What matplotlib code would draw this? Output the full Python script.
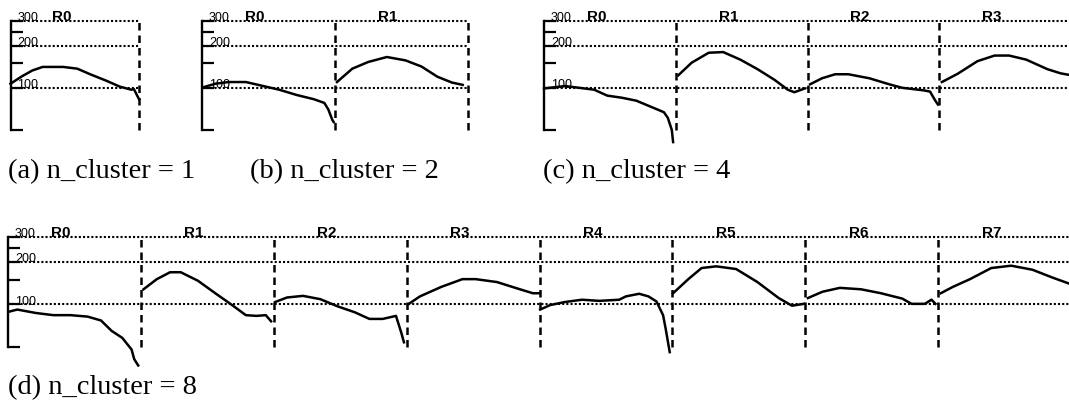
import matplotlib.pyplot as plt

plt.rcParams['font.family'] = ['Liberation Sans', 'DejaVu Sans']

W, H = 1069, 402

captions = ["(a) n_cluster = 1", "(b) n_cluster = 2", "(c) n_cluster = 4", "(d) n_cluster = 8"]
grid_vals = [100, 200, 300]
tick_vals = [50, 100, 150, 200, 250, 300]

# position inside each region (0..1) and value, one list per region R0, R1, ...
pos_n1 = [[0, .09, .17, .25, .41, .52, .62, .75, .85, .94, .96, 1.0]]
val_n1 = [[107, 121, 133, 141, 141, 137, 125, 112, 102, 97, 98, 83]]

pos_n2 = [[.01, .10, .20, .33, .46, .58, .71, .84, .92, .95, .98, .99],
          [.015, .13, .25, .39, .53, .65, .77, .88, .96]]
val_n2 = [[101, 107, 110, 110, 103, 97, 89, 83, 78, 70, 59, 57],
          [110, 137, 153, 166, 157, 142, 120, 109, 105]]

pos_n4 = [[0, .16, .38, .48, .59, .70, .80, .91, .94, .97, .98],
          [.02, .12, .25, .36, .49, .62, .75, .85, .90, .98],
          [.02, .11, .21, .31, .47, .62, .72, .88, .93, .97, .99],
          [.02, .14, .29, .42, .53, .66, .82, .92, 1.0]]
val_n4 = [[99, 103, 97, 88, 85, 81, 74, 67, 61, 50, 41],
          [123, 151, 178, 180, 159, 136, 114, 97, 93, 99],
          [106, 117, 125, 125, 117, 106, 100, 96, 94, 81, 76],
          [110, 126, 155, 170, 170, 159, 136, 127, 123]]

pos_n8 = [[.01, .07, .21, .34, .47, .60, .70, .78, .86, .93, .95, .98],
          [.02, .12, .22, .30, .43, .56, .68, .79, .87, .94, .98],
          [.01, .10, .22, .35, .48, .61, .72, .82, .92, .96, .98],
          [.01, .10, .26, .42, .52, .68, .83, .95, 1.0],
          [.005, .08, .19, .32, .45, .60, .65, .75, .82, .88, .93, .95, .98],
          [.005, .12, .22, .33, .48, .64, .80, .90, .99],
          [.02, .13, .26, .42, .57, .73, .80, .90, .95, .98],
          [.02, .11, .24, .40, .55, .71, .86, .99]]
val_n8 = [[89, 92, 87, 84, 84, 82, 77, 65, 58, 48, 41, 37],
          [128, 151, 169, 169, 147, 120, 100, 84, 83, 84, 76],
          [104, 112, 115, 109, 97, 88, 79, 79, 83, 63, 54],
          [100, 114, 133, 151, 151, 144, 130, 120, 120],
          [92, 99, 104, 108, 106, 108, 114, 119, 114, 105, 84, 67, 46],
          [120, 151, 181, 186, 178, 144, 111, 98, 101],
          [111, 123, 131, 128, 120, 110, 101, 101, 108, 101],
          [120, 133, 151, 181, 188, 176, 155, 140]]

fig = plt.figure(figsize=(W / 100, H / 100), dpi=100)


def draw_panel(x0, x1, y0, y1, pos, val):
    ax = fig.add_axes([x0 / W, 1 - y1 / H, (x1 - x0) / W, (y1 - y0) / H])
    n = len(pos)
    ax.set_yscale('log')
    ax.set_ylim(50, 300)
    ax.set_xlim(0, n)
    ax.patch.set_alpha(0)
    for s in ['top', 'right', 'bottom']:
        ax.spines[s].set_visible(False)
    ax.spines['left'].set_linewidth(1.7)
    ax.set_xticks([])
    ax.set_yticks(tick_vals)
    ax.minorticks_off()
    ax.tick_params(axis='y', direction='in', length=8.5, width=1.6, labelleft=False)

    for v in grid_vals:
        ax.axhline(v, color='black', lw=1.5, ls=(0, (1, 1)), clip_on=False)
        ax.annotate(str(v), xy=(0, v), xycoords=('axes fraction', 'data'),
                    xytext=(5, 0.5), textcoords='offset points',
                    fontsize=9, va='baseline')
    for i in range(1, n + 1):
        ax.axvline(i, color='black', lw=1.8, ls=(0, (3, 2)), clip_on=False)
    for i in range(n):
        ax.annotate(f"R{i}", xy=(i + 0.4, 300), xytext=(0, 0.5),
                    textcoords='offset points', fontsize=11, fontweight='bold',
                    ha='center', va='baseline')
        ax.plot([i + p for p in pos[i]], val[i], color='black', lw=1.8,
                clip_on=False, solid_joinstyle='round')
    return ax


draw_panel(10.5, 139, 22, 131, pos_n1, val_n1)
draw_panel(202, 468, 22, 131, pos_n2, val_n2)
draw_panel(544, 1071, 22, 131, pos_n4, val_n4)
draw_panel(8, 1071, 238, 348, pos_n8, val_n8)

cap_xy = [(8, 178), (250, 178), (543, 178), (8, 394)]
for txt, (cx, cy) in zip(captions, cap_xy):
    fig.text(cx / W, 1 - cy / H, txt, family='Liberation Serif',
             fontsize=20.5, va='baseline', ha='left')

fig.savefig('out.png', dpi=100)
